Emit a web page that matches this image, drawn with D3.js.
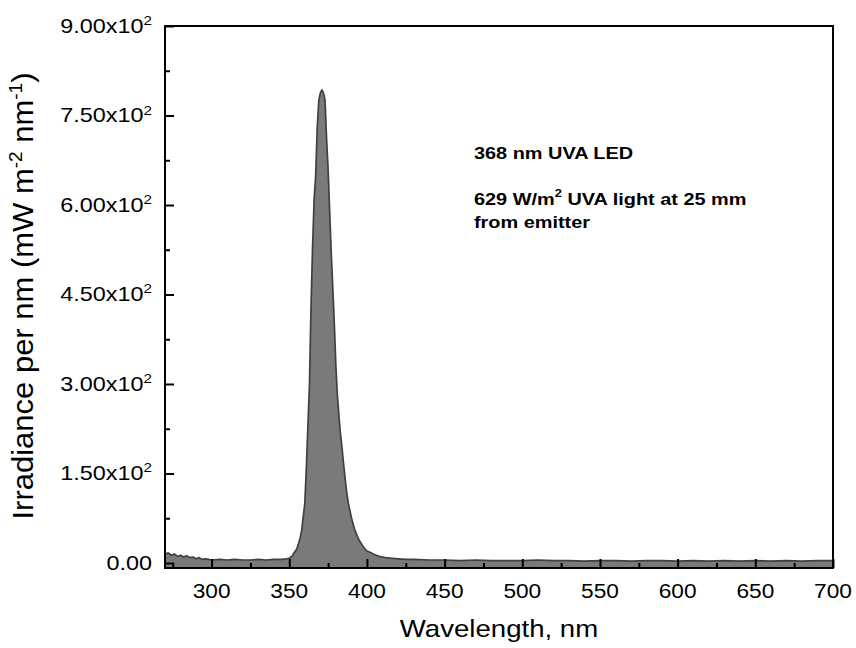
<!DOCTYPE html>
<html>
<head>
<meta charset="utf-8">
<script src="https://cdn.jsdelivr.net/npm/d3@7"></script>
<style>
  html, body { margin: 0; padding: 0; background: #fff; }
  svg { display: block; font-family: "Liberation Sans", Arial, sans-serif; }
</style>
</head>
<body>
<svg id="chart" width="856" height="648"></svg>
<script>
// Emission spectrum of a 368 nm UVA LED: wavelength (nm) and irradiance per nm (mW m^-2 nm^-1)
const wavelengths = [
  270, 272, 274, 276, 278, 280, 282, 284, 286, 288, 290, 292, 294, 296, 298, 300,
  305, 310, 315, 320, 325, 330, 335, 340, 345, 348, 350, 352,
  353, 354, 355, 356, 357, 358, 359, 360, 361, 362, 363, 364, 365, 366, 367, 368, 369,
  370, 371, 372, 373, 374, 375, 376, 377, 378, 379, 380, 381, 382, 383, 384, 385,
  386, 387, 388, 389, 390, 391, 392, 393, 394, 395, 396, 397, 398, 399, 400,
  402, 404, 406, 408, 410, 412, 415, 420, 425, 430, 440, 450, 460, 470, 480, 490,
  500, 510, 520, 530, 540, 550, 560, 570, 580, 590, 600, 610, 620, 630, 640, 650,
  660, 670, 680, 690, 700
];
const irradiance = [
  14, 17, 13, 15, 11, 13, 10, 12, 9, 10, 7, 9, 6, 7, 6, 5,
  6, 5, 6, 5, 5, 6, 5, 6, 6, 7, 8, 12,
  17, 20, 25, 33, 42, 55, 78, 100, 160, 230, 300, 430, 530, 610, 650, 730, 775,
  788, 793, 788, 776, 712, 660, 590, 520, 462, 400, 330, 280, 245, 215, 192, 165,
  140, 118, 100, 88, 76, 66, 57, 50, 44, 38, 34, 30, 26, 23, 20,
  18, 15, 13, 11, 10, 9, 8, 7, 6, 6, 5, 5, 4, 5, 4, 4,
  4, 5, 4, 4, 3, 4, 4, 3, 4, 4, 3, 4, 3, 4, 3, 4,
  3, 4, 3, 4, 4
];
const xTicks = [300, 350, 400, 450, 500, 550, 600, 650, 700];
const xMinorTicks = [275, 325, 375, 425, 475, 525, 575, 625, 675];
const yTicks = [0, 150, 300, 450, 600, 750, 900];
const yTickMantissa = ["0.00", "1.50x10", "3.00x10", "4.50x10", "6.00x10", "7.50x10", "9.00x10"];
const yMinorTicks = [75, 225, 375, 525, 675, 825];
const xTitle = "Wavelength, nm";
const notes = ["368 nm UVA LED", "629 W/m", "2", " UVA light at 25 mm", "from emitter"];

const spectrum = wavelengths.map((w, i) => ({ w, v: irradiance[i] }));

const svg = d3.select("#chart");
const frame = { left: 165, right: 833, top: 26, bottom: 568 };
// Lettering is drawn slightly wide, like the rest of the figure
const wide = 1.17;

const x = d3.scaleLinear().domain([270, 700]).range([frame.left, frame.right]);
const y = d3.scaleLinear().domain([-8.4, 900]).range([frame.bottom, frame.top]);

svg.append("clipPath").attr("id", "plot-clip")
  .append("rect").attr("x", frame.left).attr("y", frame.top)
  .attr("width", frame.right - frame.left).attr("height", frame.bottom - frame.top);

const plot = svg.append("g").attr("clip-path", "url(#plot-clip)");

// Filled spectrum down to the bottom of the frame
plot.append("path")
  .datum(spectrum)
  .attr("fill", "#7a7a7a")
  .attr("d", d3.area().x(d => x(d.w)).y0(frame.bottom).y1(d => y(d.v)));

plot.append("path")
  .datum(spectrum)
  .attr("fill", "none")
  .attr("stroke", "#404040")
  .attr("stroke-width", 1.7)
  .attr("stroke-linejoin", "round")
  .attr("d", d3.line().x(d => x(d.w)).y(d => y(d.v)));

// Inward ticks on the left and bottom axes
const xAxis = d3.axisBottom(x).tickValues(xTicks).tickSize(-9).tickFormat("");
const xAxisMinor = d3.axisBottom(x).tickValues(xMinorTicks).tickSize(-5).tickFormat("");
const yAxis = d3.axisLeft(y).tickValues(yTicks).tickSize(-9).tickFormat("");
const yAxisMinor = d3.axisLeft(y).tickValues(yMinorTicks).tickSize(-5).tickFormat("");

function styleAxis(g) {
  g.select(".domain").remove();
  g.selectAll(".tick line").attr("stroke", "#000").attr("stroke-width", 2);
}
svg.append("g").attr("transform", `translate(0,${frame.bottom})`).call(xAxis).call(styleAxis);
svg.append("g").attr("transform", `translate(0,${frame.bottom})`).call(xAxisMinor).call(styleAxis);
svg.append("g").attr("transform", `translate(${frame.left},0)`).call(yAxis).call(styleAxis);
svg.append("g").attr("transform", `translate(${frame.left},0)`).call(yAxisMinor).call(styleAxis);

// Frame
svg.append("rect")
  .attr("x", frame.left).attr("y", frame.top)
  .attr("width", frame.right - frame.left).attr("height", frame.bottom - frame.top)
  .attr("fill", "none").attr("stroke", "#000").attr("stroke-width", 2);

// X tick labels
svg.append("g").selectAll("text")
  .data(xTicks).join("text")
  .attr("transform", d => `translate(${x(d)},${frame.bottom + 30}) scale(1.08,1)`)
  .attr("text-anchor", "middle")
  .attr("font-size", 21)
  .text(d => d);

// Y tick labels with power-of-ten superscript
const yl = svg.append("g").selectAll("text")
  .data(yTicks).join("text")
  .attr("transform", d => `translate(${frame.left - 13},${y(d) + 7}) scale(${wide},1)`)
  .attr("text-anchor", "end")
  .attr("font-size", 20);
yl.append("tspan").text((d, i) => yTickMantissa[i]);
yl.filter(d => d !== 0).append("tspan")
  .attr("font-size", 13).attr("dy", -8).text("2");

// Axis titles
svg.append("text")
  .attr("transform", `translate(${(frame.left + frame.right) / 2},637) scale(1.15,1)`)
  .attr("text-anchor", "middle").attr("font-size", 24)
  .text(xTitle);

const yt = svg.append("text")
  .attr("transform", `translate(33,296) scale(0.95,1) rotate(-90)`)
  .attr("text-anchor", "middle").attr("font-size", 31);
yt.append("tspan").text("Irradiance per nm (mW m");
yt.append("tspan").attr("font-size", 19).attr("dy", -12).text("-2");
yt.append("tspan").attr("dy", 12).text(" nm");
yt.append("tspan").attr("font-size", 19).attr("dy", -12).text("-1");
yt.append("tspan").attr("dy", 12).text(")");

// Annotation
const ann = svg.append("g").attr("font-weight", "bold").attr("font-size", 17).attr("fill", "#000");
ann.append("text").attr("transform", `translate(474,159) scale(${wide},1)`).text(notes[0]);
const line2 = ann.append("text").attr("transform", `translate(474,205) scale(${wide},1)`);
line2.append("tspan").text(notes[1]);
line2.append("tspan").attr("font-size", 11).attr("dy", -8).text(notes[2]);
line2.append("tspan").attr("dy", 8).text(notes[3]);
ann.append("text").attr("transform", `translate(474,228) scale(${wide},1)`).text(notes[4]);
</script>
</body>
</html>
